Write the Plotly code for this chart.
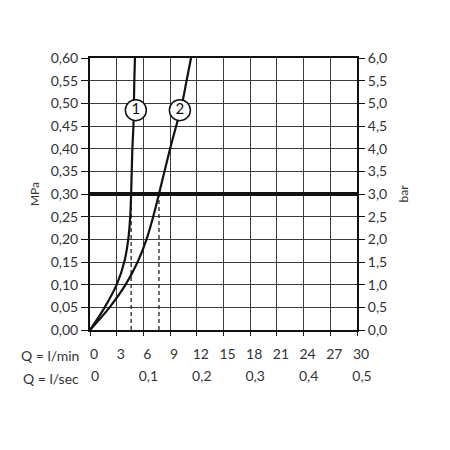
import plotly.graph_objects as go

# Data
flow_lmin_ticks = [0, 3, 6, 9, 12, 15, 18, 21, 24, 27, 30]
flow_lsec_ticks = [0, 0.1, 0.2, 0.3, 0.4, 0.5]
flow_lsec_text = ["0", "0,1", "0,2", "0,3", "0,4", "0,5"]

curve1_q = [0, 1.65, 3.0, 3.85, 4.3, 4.52, 4.62, 4.76, 4.88, 4.98, 5.05]
curve1_p = [0, 0.05, 0.10, 0.15, 0.20, 0.25, 0.30, 0.40, 0.45, 0.55, 0.60]
curve2_q = [0, 2.2, 4.0, 5.35, 6.35, 7.1, 7.75, 9.0, 10.35, 10.85, 11.35]
curve2_p = [0, 0.05, 0.10, 0.15, 0.20, 0.25, 0.30, 0.40, 0.50, 0.55, 0.60]

label_names = ["1", "2"]
label_q = [5.15, 10.1]
label_p = [0.485, 0.485]

ref_pressure = 0.30
ref_flows = [4.62, 7.75]

FONT = "Lato"
TXT = "#333333"

fig = go.Figure()

# Reference pressure line
fig.add_trace(go.Scatter(x=[0, 30], y=[ref_pressure, ref_pressure], mode="lines",
                         line=dict(color="#111111", width=4), hoverinfo="skip", showlegend=False))

# Dashed drop lines
for q in ref_flows:
    fig.add_trace(go.Scatter(x=[q, q], y=[0, ref_pressure], mode="lines",
                             line=dict(color="#111111", width=1.2, dash="4px,3px"),
                             hoverinfo="skip", showlegend=False))

fig.add_trace(go.Scatter(x=curve1_q, y=curve1_p, mode="lines", line=dict(color="#111111", width=2.2, shape="spline", smoothing=1.0), showlegend=False))
fig.add_trace(go.Scatter(x=curve2_q, y=curve2_p, mode="lines", line=dict(color="#111111", width=2.2, shape="spline", smoothing=1.0), showlegend=False))

# Circle labels
fig.add_trace(go.Scatter(x=label_q, y=label_p, mode="markers+text", text=label_names,
                         textposition="middle center",
                         textfont=dict(family=FONT, size=15, color="#111111"),
                         marker=dict(size=21, color="white", line=dict(color="#111111", width=1.5)),
                         showlegend=False))

# Invisible traces to activate secondary axes
fig.add_trace(go.Scatter(x=[0], y=[0], yaxis="y2", mode="markers", marker=dict(opacity=0), showlegend=False, hoverinfo="skip"))
fig.add_trace(go.Scatter(x=[0], y=[0], xaxis="x2", mode="markers", marker=dict(opacity=0), showlegend=False, hoverinfo="skip"))

grid_color = "#3c3c3c"
fig.update_layout(
    width=442, height=442,
    margin=dict(l=82, r=93, t=50, b=120, autoexpand=False),
    paper_bgcolor="white", plot_bgcolor="white",
    separators=",.",
    font=dict(family=FONT, size=14, color=TXT),
    xaxis=dict(range=[0, 30], tickvals=flow_lmin_ticks, showgrid=True, gridcolor=grid_color, gridwidth=1.4,
               zeroline=False, showline=True, linecolor="#111111", linewidth=2, mirror=True, automargin=False,
               ticks="outside", ticklen=4, tickcolor="#111111", ticklabelshift=4, ticklabelstandoff=6),
    xaxis2=dict(range=[0, 0.5], overlaying="x", side="bottom", anchor="y", tickvals=flow_lsec_ticks,
                ticktext=flow_lsec_text, showgrid=False, zeroline=False, showline=False, ticks="",
                automargin=False, ticklabelshift=5, ticklabelstandoff=36),
    yaxis=dict(range=[0, 0.6], dtick=0.05, tickformat=".2f", showgrid=True, gridcolor=grid_color, gridwidth=1.4,
               zeroline=False, showline=True, linecolor="#111111", linewidth=2, mirror=True, automargin=False,
               ticks="outside", ticklen=7, tickcolor="#111111",
               title=dict(text="MPa", font=dict(size=12, color=TXT), standoff=8)),
    yaxis2=dict(range=[0, 6], dtick=0.5, tickformat=".1f", overlaying="y", side="right", showgrid=False,
                zeroline=False, showline=False, ticks="outside", ticklen=7, tickcolor="#111111", automargin=False,
                title=dict(text="bar", font=dict(size=12, color=TXT), standoff=13)),
    annotations=[
        dict(text="Q = l/min", xref="paper", yref="paper", x=-0.035, y=0, yshift=-25, xanchor="right",
             yanchor="middle", showarrow=False, font=dict(family=FONT, size=14, color=TXT)),
        dict(text="Q = l/sec", xref="paper", yref="paper", x=-0.035, y=0, yshift=-48, xanchor="right",
             yanchor="middle", showarrow=False, font=dict(family=FONT, size=14, color=TXT)),
    ],
)

fig.write_html("out.html")
